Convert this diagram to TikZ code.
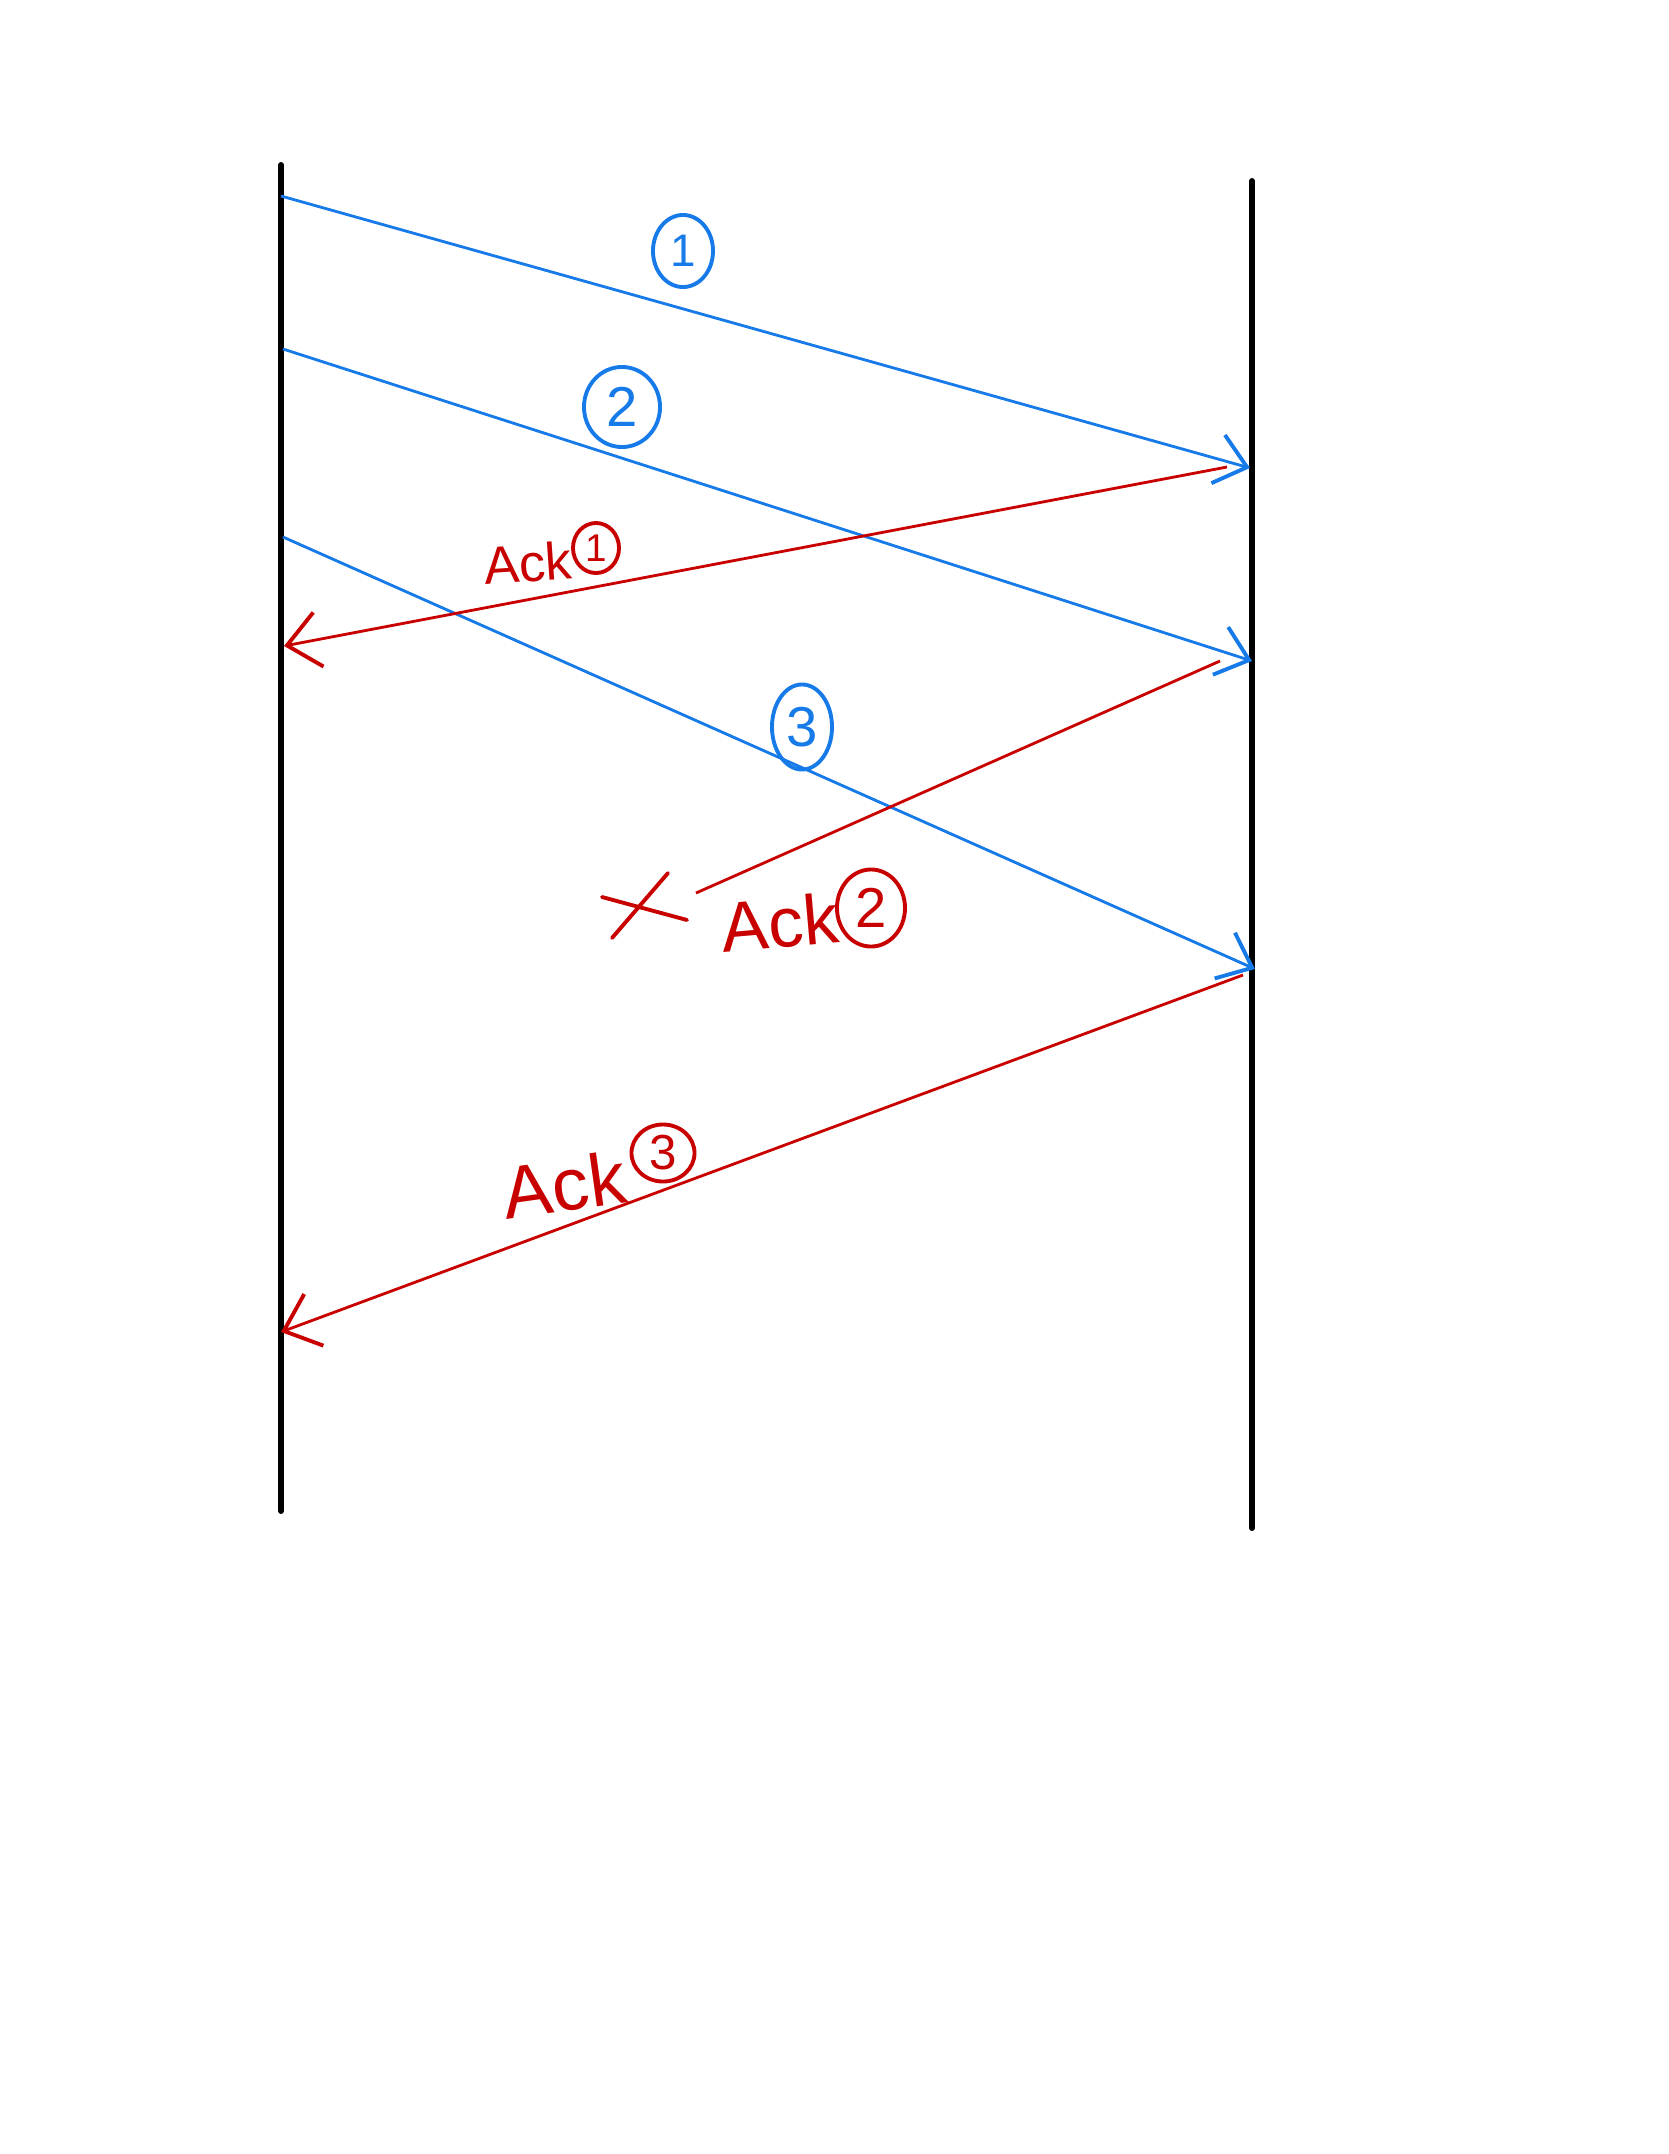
\documentclass[tikz,border=0pt]{standalone}
\usepackage{fontspec}
\setmainfont{Liberation Sans}
\usetikzlibrary{arrows.meta,shapes.geometric}
\definecolor{penblue}{RGB}{22,122,232}
\definecolor{penred}{RGB}{200,0,0}
\tikzset{
  lifeline/.style={line width=1.7pt,black,line cap=round},
  datamsg/.style={line width=0.8pt,penblue,-{Straight Barb[length=3mm,width=5mm,line width=1.1pt]}},
  ackmsg/.style={line width=0.8pt,penred,-{Straight Barb[length=3.2mm,width=5.5mm,line width=1.1pt]}},
  lostmsg/.style={line width=0.8pt,penred},
  bnum/.style={ellipse,draw=penblue,line width=1.1pt,text=penblue,inner sep=0pt},
  rnum/.style={ellipse,draw=penred,line width=1.1pt,text=penred,inner sep=0pt},
  acktext/.style={text=penred,inner sep=0pt},
  xmark/.style={line width=1.1pt,penred,line cap=round}
}
\begin{document}
\begin{tikzpicture}[x=0.01cm,y=-0.01cm]
\useasboundingbox (0,0) rectangle (1668,2154);
% lifelines
\coordinate (Ltop) at (281,165);
\coordinate (Lbot) at (281,1511);
\coordinate (Rtop) at (1252,181);
\coordinate (Rbot) at (1252,1528);
\draw[lifeline] (Ltop) -- (Lbot);
\draw[lifeline] (Rtop) -- (Rbot);
% message end points
\coordinate (s1) at (281,196);
\coordinate (r1) at (1250,468);
\coordinate (s2) at (283,349);
\coordinate (r2) at (1252,661);
\coordinate (s3) at (283,537);
\coordinate (r3) at (1255,969);
\coordinate (a1s) at (1227,467);
\coordinate (a1e) at (284,646);
\coordinate (a2s) at (1220,661);
\coordinate (a2e) at (696,893);
\coordinate (a3s) at (1243,975);
\coordinate (a3e) at (281,1332);
% data messages
\draw[datamsg] (s1) -- (r1);
\draw[datamsg] (s2) -- (r2);
\draw[datamsg] (s3) -- (r3);
% acks
\draw[ackmsg] (a1s) -- (a1e);
\draw[lostmsg] (a2s) -- (a2e);
\draw[ackmsg] (a3s) -- (a3e);
% lost mark
\coordinate (x1a) at (602,897);
\coordinate (x1b) at (687,920);
\coordinate (x2a) at (612,938);
\coordinate (x2b) at (668,873);
\draw[xmark] (x1a) -- (x1b);
\draw[xmark] (x2a) -- (x2b);
% blue labels
\node[bnum,minimum width=0.6cm,minimum height=0.72cm,font=\fontsize{13}{13}\selectfont] (n1) at (683,251) {1};
\node[bnum,minimum width=0.76cm,minimum height=0.8cm,font=\fontsize{16}{16}\selectfont] (n2) at (622,407) {2};
\node[bnum,minimum width=0.6cm,minimum height=0.85cm,font=\fontsize{16}{16}\selectfont] (n3) at (802,727) {3};
% ack labels
\node[acktext,font=\fontsize{15}{15}\selectfont,rotate=4] (t1) at (528,563) {Ack};
\node[rnum,minimum width=0.46cm,minimum height=0.5cm,font=\fontsize{11}{11}\selectfont] (c1) at (596,548) {1};
\node[acktext,font=\fontsize{20}{20}\selectfont,rotate=5] (t2) at (780,922) {Ack};
\node[rnum,minimum width=0.68cm,minimum height=0.77cm,font=\fontsize{16}{16}\selectfont] (c2) at (871,908) {2};
\node[acktext,font=\fontsize{21}{21}\selectfont,rotate=8] (t3) at (564,1185) {Ack};
\node[rnum,minimum width=0.63cm,minimum height=0.57cm,font=\fontsize{14}{14}\selectfont] (c3) at (663,1153) {3};
\end{tikzpicture}
\end{document}
